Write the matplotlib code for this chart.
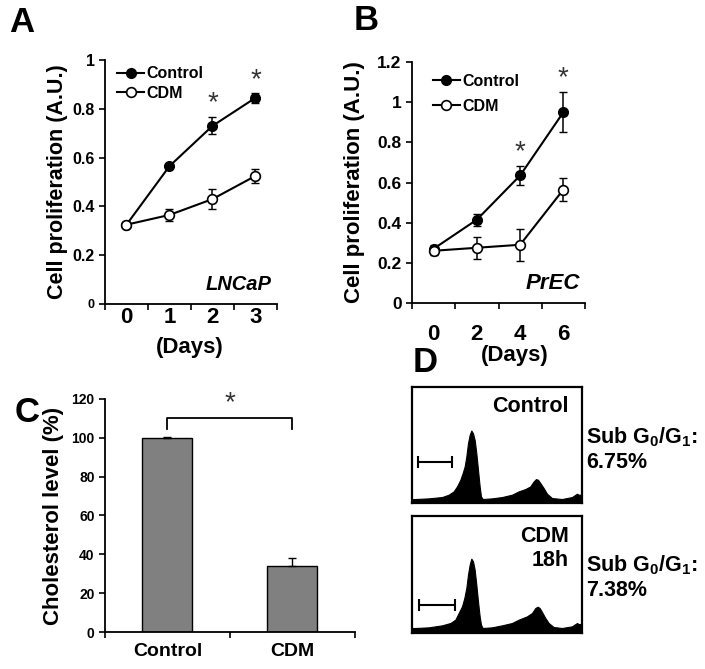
import matplotlib
matplotlib.use("Agg")
import matplotlib.pyplot as plt

plt.rcParams['font.family'] = ['Liberation Sans', 'DejaVu Sans']
plt.rcParams['font.weight'] = 'bold'
plt.rcParams['axes.labelweight'] = 'bold'
plt.rcParams['mathtext.fontset'] = 'custom'
plt.rcParams['mathtext.rm'] = 'Liberation Sans:bold'
plt.rcParams['mathtext.it'] = 'Liberation Sans:bold'
plt.rcParams['axes.linewidth'] = 1.3

# panel A (LNCaP)
days_a = ["0", "1", "2", "3"]
ctrl_a = [0.325, 0.565, 0.73, 0.845]
ctrl_a_err = [0.008, 0.01, 0.035, 0.02]
cdm_a = [0.325, 0.365, 0.43, 0.525]
cdm_a_err = [0.008, 0.025, 0.04, 0.03]
star_a = [2, 3]
star_a_y = [0.825, 0.918]

# panel B (PrEC)
days_b = ["0", "2", "4", "6"]
ctrl_b = [0.27, 0.415, 0.635, 0.95]
ctrl_b_err = [0.02, 0.03, 0.045, 0.1]
cdm_b = [0.26, 0.275, 0.29, 0.565]
cdm_b_err = [0.02, 0.055, 0.08, 0.055]
star_b = [2, 3]
star_b_y = [0.75, 1.12]

# panel C
groups_c = ["Control", "CDM"]
chol = [100, 34]
chol_err = [0.6, 4]

# panel D histograms (channel, counts, arbitrary units)
hist_x_ctrl = [0, 10, 50, 90, 110, 125, 135, 145, 152, 158, 163, 168, 173, 178, 183, 188, 193,
               198, 203, 207, 212, 240, 270, 300, 320, 340, 355, 365, 372, 378, 385, 395,
               405, 420, 450, 480, 495, 500, 510]
hist_y_ctrl = [12, 12, 14, 18, 25, 35, 50, 70, 90, 110, 140, 180, 205, 218, 210, 190, 150,
               100, 50, 20, 12, 14, 18, 25, 35, 42, 50, 65, 72, 70, 60, 45,
               28, 15, 12, 18, 28, 25, 25]
hist_x_cdm = [0, 10, 50, 90, 115, 130, 140, 150, 157, 163, 168, 173, 178, 183, 188, 193, 198,
              203, 207, 212, 240, 270, 300, 320, 345, 360, 370, 377, 383, 390, 400, 410,
              425, 450, 480, 495, 500, 510]
hist_y_cdm = [15, 15, 17, 23, 30, 40, 60, 80, 105, 135, 175, 205, 223, 215, 190, 145, 95,
              50, 25, 15, 17, 23, 30, 40, 50, 60, 75, 79, 75, 63, 45, 30,
              18, 15, 20, 30, 27, 27]
gate_ctrl = [18, 120, 123]
gate_cdm = [20, 130, 83]

fig = plt.figure(figsize=(7.05, 6.69), dpi=100)


def line_panel(rect, days, ctrl, ctrl_err, cdm, cdm_err, ymax, ystep, stars, stars_y,
               cell, cell_size, ytick_size, ylab_size, label_pad, leg_anchor, leg_space):
    ax = fig.add_axes(rect)
    pos = list(range(len(days)))
    ax.errorbar(pos, ctrl, yerr=ctrl_err, fmt='none', ecolor='black', capsize=3,
                elinewidth=1.1, zorder=2)
    ax.errorbar(pos, cdm, yerr=cdm_err, fmt='none', ecolor='black', capsize=3,
                elinewidth=1.1, zorder=2)
    ax.plot(pos, ctrl, color='black', lw=1.5, marker='o', ms=7, mfc='black', mec='black',
            label='Control', zorder=3)
    ax.plot(pos, cdm, color='black', lw=1.5, marker='o', ms=7, mfc='white', mec='black',
            mew=1.2, label='CDM', zorder=3)
    ax.set_xlim(-0.5, len(days) - 0.5)
    ax.set_ylim(0, ymax)
    yt = [round(i * ystep, 2) for i in range(int(round(ymax / ystep)) + 1)]
    ax.set_yticks(yt)
    ax.set_yticklabels(["%g" % v for v in yt], fontsize=ytick_size, fontweight='bold')
    ax.set_xticks([p - 0.5 for p in pos] + [len(days) - 0.5])
    ax.set_xticklabels([])
    ax.set_xticks(pos, minor=True)
    ax.set_xticklabels(days, minor=True, fontsize=16, fontweight='bold')
    ax.tick_params(axis='x', which='minor', length=0, pad=label_pad)
    ax.tick_params(axis='both', which='major', length=4, width=1.2, direction='out')
    for s in ['top', 'right']:
        ax.spines[s].set_visible(False)
    for p, y in zip(stars, stars_y):
        ax.text(p, y, "*", ha='center', va='center', fontsize=20, fontweight='normal',
                color='#333333')
    ax.text(0.97, 0.08, cell, transform=ax.transAxes, ha='right', va='center',
            fontsize=cell_size, style='italic', fontweight='bold')
    ax.legend(loc='upper left', bbox_to_anchor=leg_anchor, frameon=False,
              prop={'size': 11.5, 'weight': 'bold'},
              handlelength=1.7, handletextpad=0.15, borderpad=0, borderaxespad=0,
              labelspacing=leg_space)
    ax.set_ylabel("Cell proliferation (A.U.)", fontsize=ylab_size, fontweight='bold')
    return ax


ax_a = line_panel([0.1489, 0.5456, 0.244, 0.3647], days_a, ctrl_a, ctrl_a_err, cdm_a, cdm_a_err,
                  1.0, 0.2, star_a, star_a_y, "LNCaP", 14.5, 11.5, 15.5, 2, (0.07, 0.975), 0.3)
ax_a.get_yticklabels()[0].set_fontsize(9)
ax_a.yaxis.set_label_coords(-0.215, 0.5)
ax_b = line_panel([0.5844, 0.5471, 0.2454, 0.3602], days_b, ctrl_b, ctrl_b_err, cdm_b, cdm_b_err,
                  1.2, 0.2, star_b, star_b_y, "PrEC", 16, 12.5, 16, 15, (0.12, 0.95), 0.6)
ax_b.yaxis.set_label_coords(-0.272, 0.5)

fig.text(190 / 705, 1 - 347 / 669, "(Days)", ha='center', va='center', fontsize=16)
fig.text(515 / 705, 1 - 355 / 669, "(Days)", ha='center', va='center', fontsize=16)

# panel C
ax_c = fig.add_axes([0.1489, 0.0553, 0.3546, 0.3483])
ax_c.bar([0, 1], chol, width=0.4, color='#808080', edgecolor='black', lw=1.0, zorder=2)
ax_c.errorbar([0, 1], chol, yerr=[[0, 0], chol_err], fmt='none', ecolor='black',
              elinewidth=1.0, capsize=3, zorder=3)
ax_c.set_xlim(-0.5, 1.5)
ax_c.set_ylim(0, 120)
ax_c.set_yticks(range(0, 121, 20))
ax_c.set_yticklabels([str(v) for v in range(0, 121, 20)], fontsize=10, fontweight='bold')
ax_c.set_xticks([-0.5, 0.5, 1.5])
ax_c.set_xticklabels([])
ax_c.set_xticks([0, 1], minor=True)
ax_c.set_xticklabels(groups_c, minor=True, fontsize=14, fontweight='bold')
ax_c.tick_params(axis='x', which='minor', length=0, pad=8)
ax_c.tick_params(axis='both', which='major', length=4, width=1.2, direction='out')
for s in ['top', 'right']:
    ax_c.spines[s].set_visible(False)
ax_c.plot([0, 0, 1, 1], [104.5, 110, 110, 104.5], color='black', lw=1.3, clip_on=False)
ax_c.text(0.5, 118, "*", ha='center', va='center', fontsize=20, fontweight='normal',
          color='#333333', clip_on=False)
ax_c.set_ylabel("Cholesterol level (%)", fontsize=16, fontweight='bold')
ax_c.yaxis.set_label_coords(-0.165, 0.5)

# panel D
for rect, hx, hy, gate, ytop in [
        ([0.5844, 0.2481, 0.2411, 0.1734], hist_x_ctrl, hist_y_ctrl, gate_ctrl, 349),
        ([0.5844, 0.0538, 0.2411, 0.1749], hist_x_cdm, hist_y_cdm, gate_cdm, 351)]:
    ax = fig.add_axes(rect)
    ax.fill_between(hx, hy, 0, color='black', lw=0.8)
    ax.errorbar([(gate[0] + gate[1]) / 2], [gate[2]], xerr=[(gate[1] - gate[0]) / 2],
                fmt='none', ecolor='black', elinewidth=1.5, capsize=4, capthick=1.5)
    ax.set_xlim(0, 510)
    ax.set_ylim(0, ytop)
    ax.set_xticks([])
    ax.set_yticks([])
    for s in ax.spines.values():
        s.set_linewidth(1.6)

fig.text(569 / 705, 1 - 407 / 669, "Control", ha='right', va='center', fontsize=15.5)
fig.text(569 / 705, 1 - 536 / 669, "CDM", ha='right', va='center', fontsize=15.5)
fig.text(569 / 705, 1 - 560 / 669, "18h", ha='right', va='center', fontsize=15.5)
fig.text(586 / 705, 1 - 437 / 669, r"Sub G$_0$/G$_1$:", ha='left', va='center', fontsize=15.5)
fig.text(586 / 705, 1 - 462 / 669, "6.75%", ha='left', va='center', fontsize=15.5)
fig.text(586 / 705, 1 - 565 / 669, r"Sub G$_0$/G$_1$:", ha='left', va='center', fontsize=15.5)
fig.text(586 / 705, 1 - 590 / 669, "7.38%", ha='left', va='center', fontsize=15.5)

# panel letters
for letter, x, y in [("A", 22, 23), ("B", 366, 21), ("C", 27, 412), ("D", 425, 362)]:
    fig.text(x / 705, 1 - y / 669, letter, ha='center', va='center', fontsize=25)

fig.savefig("out.png", dpi=100)
